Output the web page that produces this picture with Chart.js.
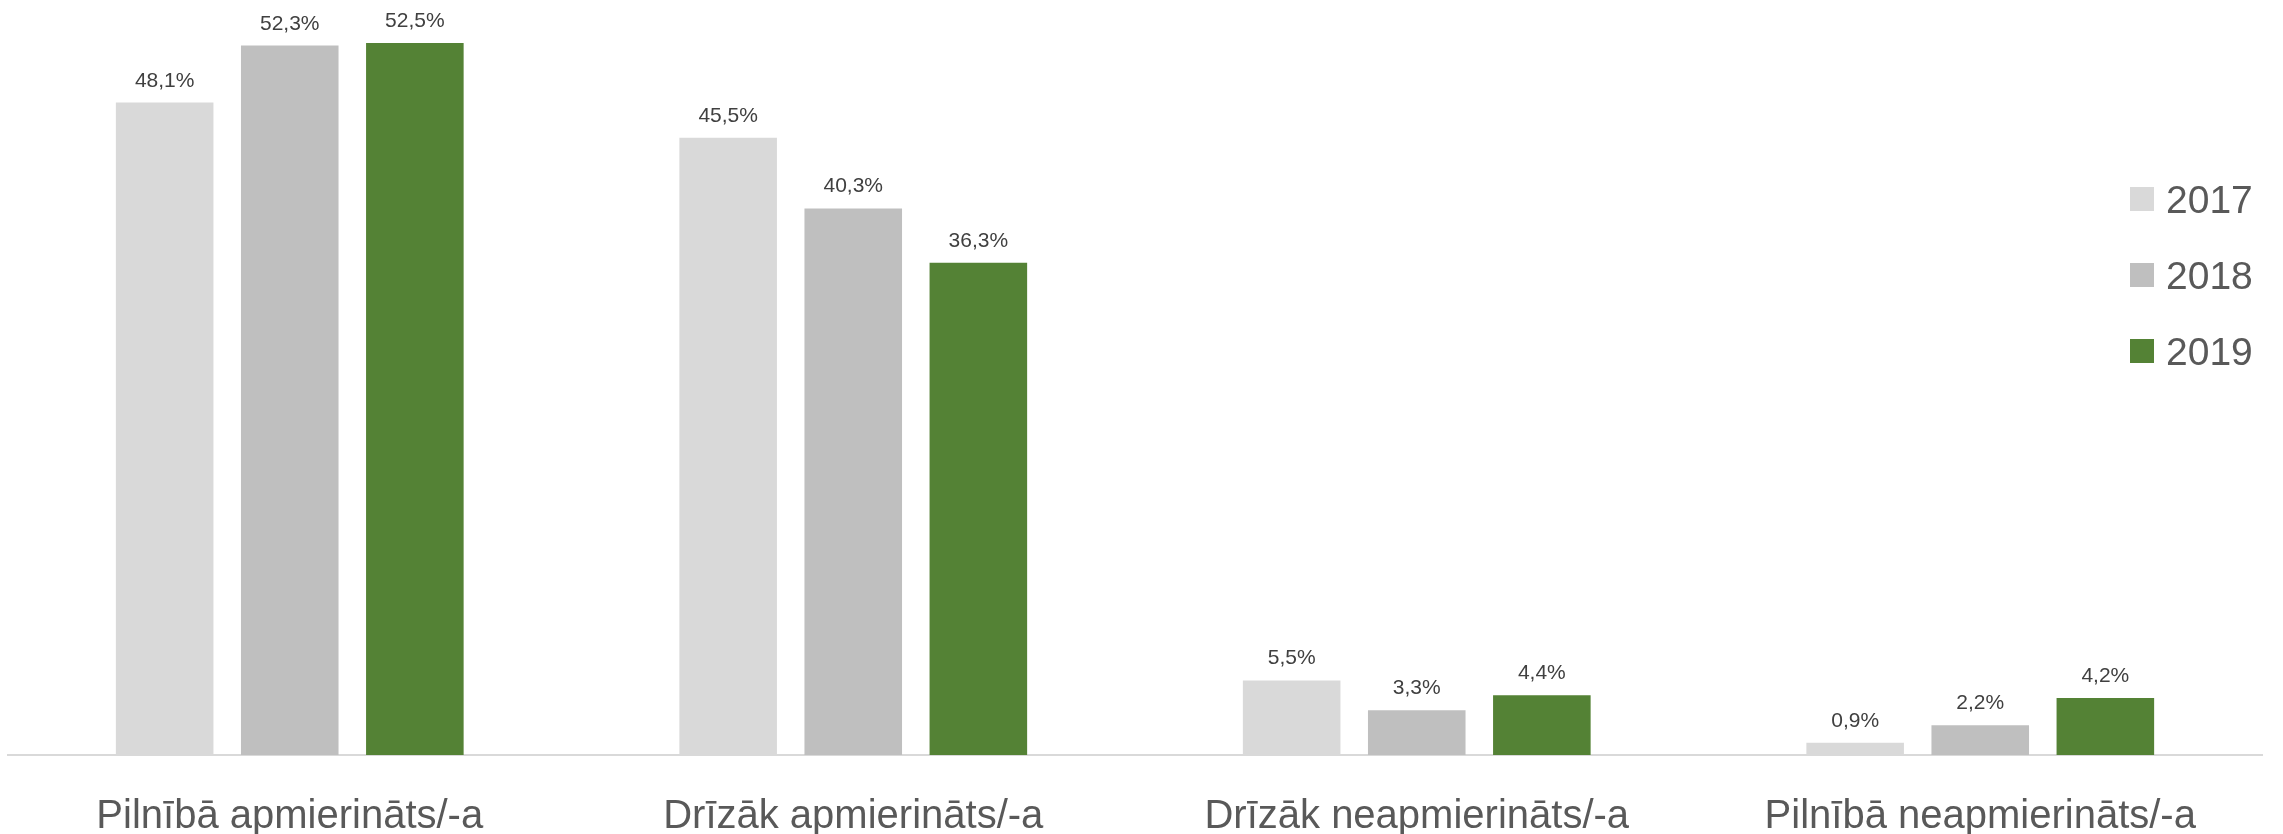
<!DOCTYPE html>
<html lang="lv">
<head>
<meta charset="utf-8" />
<title>Apmierinātība</title>
<script src="https://cdn.jsdelivr.net/npm/chart.js"></script>
<style>
  html, body { margin: 0; padding: 0; background: #fff; }
  #wrap { width: 2283px; height: 834px; }
</style>
</head>
<body>
<div id="wrap"><canvas id="chart" width="2283" height="834"></canvas></div>
<script>
const categories = ['Pilnībā apmierināts/-a', 'Drīzāk apmierināts/-a', 'Drīzāk neapmierināts/-a', 'Pilnībā neapmierināts/-a'];
const years = ['2017', '2018', '2019'];
const values2017 = [48.1, 45.5, 5.5, 0.9];
const values2018 = [52.3, 40.3, 3.3, 2.2];
const values2019 = [52.5, 36.3, 4.4, 4.2];
const colors = ['#d9d9d9', '#bfbfbf', '#548235'];

const labelFont = '"Liberation Sans Narrow", "Liberation Sans", sans-serif';

// value labels above bars
const barLabels = {
  id: 'barLabels',
  afterDatasetsDraw(chart) {
    const ctx = chart.ctx;
    ctx.save();
    ctx.font = '21px "Liberation Sans", sans-serif';
    ctx.fillStyle = '#404040';
    ctx.textAlign = 'center';
    ctx.textBaseline = 'alphabetic';
    chart.data.datasets.forEach((ds, i) => {
      chart.getDatasetMeta(i).data.forEach((bar, j) => {
        const txt = ds.data[j].toFixed(1).replace('.', ',') + '%';
        ctx.fillText(txt, bar.x, bar.y - 16);
      });
    });
    ctx.restore();
  }
};

// legend drawn over the plot, right side
const sideLegend = {
  id: 'sideLegend',
  afterDraw(chart) {
    const ctx = chart.ctx;
    ctx.save();
    ctx.font = '39px "Liberation Sans", sans-serif';
    ctx.textBaseline = 'middle';
    chart.data.datasets.forEach((ds, i) => {
      const y = 199 + i * 76;
      ctx.fillStyle = ds.backgroundColor;
      ctx.fillRect(2130, y - 12, 24, 24);
      ctx.fillStyle = '#595959';
      ctx.fillText(ds.label, 2166, y + 3);
    });
    ctx.restore();
  }
};

new Chart(document.getElementById('chart'), {
  type: 'bar',
  data: {
    labels: categories,
    datasets: [
      { label: years[0], data: values2017, backgroundColor: colors[0] },
      { label: years[1], data: values2018, backgroundColor: colors[1] },
      { label: years[2], data: values2019, backgroundColor: colors[2] }
    ]
  },
  options: {
    responsive: false,
    animation: false,
    layout: { padding: { left: 8, right: 21, top: 9, bottom: 0 } },
    datasets: { bar: { categoryPercentage: 0.666, barPercentage: 0.78 } },
    plugins: { legend: { display: false }, tooltip: { enabled: false } },
    scales: {
      y: { display: false, min: 0, max: 55 },
      x: {
        grid: { display: false },
        border: { display: true, color: '#d9d9d9', width: 2 },
        ticks: { color: '#595959', font: { family: labelFont, size: 40 }, padding: 30, maxRotation: 0 },
        afterFit(scale) { scale.height = 79; }
      }
    }
  },
  plugins: [barLabels, sideLegend]
});
</script>
</body>
</html>
